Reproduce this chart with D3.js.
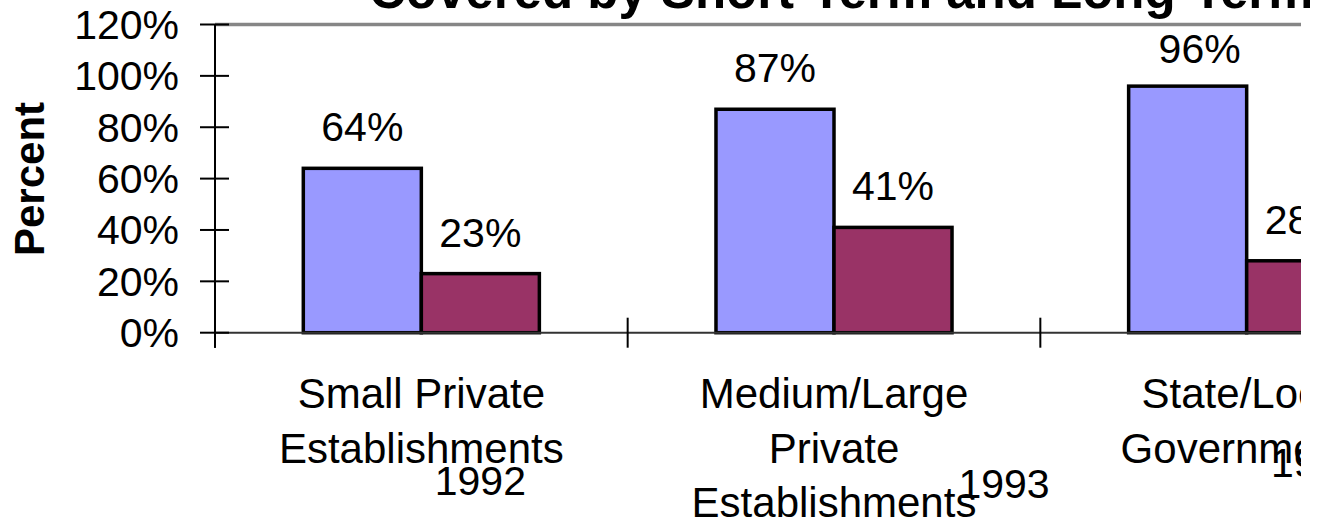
<!DOCTYPE html>
<html>
<head>
<meta charset="utf-8">
<script src="https://cdn.jsdelivr.net/npm/d3@7/dist/d3.min.js"></script>
<style>
  html, body { margin: 0; padding: 0; background: #fff; }
  svg { display: block; font-family: "Liberation Sans", Arial, sans-serif; }
</style>
</head>
<body>
<svg id="chart" width="1319" height="525"></svg>
<script>
// Chart data
const titleText = "Covered by Short-Term and Long-Term Disability";
const categories = [
  ["Small Private", "Establishments"],
  ["Medium/Large", "Private", "Establishments"],
  ["State/Local", "Governments"]
];
const years = ["1992", "1993", "1994"];
const shortTerm = [64, 87, 96];
const longTerm = [23, 41, 28];
const yTicks = [0, 20, 40, 60, 80, 100, 120];
const yTitle = "Percent";

// Layout
const W = 1319, H = 525;
const plot = { left: 215, top: 24.5, bottom: 332.7, right: 1453 };
const clipRight = 1301;
const seriesColors = ["#9999FF", "#993366"];
const yearPlacement = [
  { dx: 59, y: 495 },
  { dx: 170, y: 498 },
  { dx: 70, y: 477 }
];
const labelNudge = [[0, 0, 12], [0, 0, 0]];

const svg = d3.select("#chart");
const defs = svg.append("defs");

defs.append("clipPath").attr("id", "plotClip")
  .append("rect").attr("x", 0).attr("y", -50).attr("width", clipRight).attr("height", H + 100);
defs.append("clipPath").attr("id", "titleClip")
  .append("rect").attr("x", 0).attr("y", -50).attr("width", 1310).attr("height", H + 100);

const root = svg.append("g").attr("clip-path", "url(#plotClip)");

const x = d3.scaleBand()
  .domain(d3.range(categories.length))
  .range([plot.left, plot.right])
  .paddingInner(0).paddingOuter(0);

const y = d3.scaleLinear().domain([0, 120]).range([plot.bottom, plot.top]);

const barW = x.bandwidth() * 0.286;

// Title (lower part of a multi-line heading that runs off the top)
svg.append("g").attr("clip-path", "url(#titleClip)")
  .append("text")
  .attr("x", 369).attr("y", 8)
  .attr("font-size", 51).attr("font-weight", "bold")
  .attr("fill", "#000")
  .text(titleText);

// Plot-area top border
root.append("line")
  .attr("x1", plot.left).attr("x2", plot.right)
  .attr("y1", y(120)).attr("y2", y(120))
  .attr("stroke", "#868686").attr("stroke-width", 3.5);

// Bars
const series = [shortTerm, longTerm];
series.forEach((vals, s) => {
  root.selectAll(null)
    .data(vals)
    .enter().append("rect")
    .attr("x", (d, i) => x(i) + x.bandwidth() / 2 + (s === 0 ? -barW : 0))
    .attr("y", d => y(d))
    .attr("width", barW)
    .attr("height", d => y(0) - y(d))
    .attr("fill", seriesColors[s])
    .attr("stroke", "#000")
    .attr("stroke-width", 3.5);

  root.selectAll(null)
    .data(vals)
    .enter().append("text")
    .attr("x", (d, i) => x(i) + x.bandwidth() / 2 + (s === 0 ? -barW / 2 : barW / 2) + labelNudge[s][i])
    .attr("y", d => y(d) - 27 + (s === 0 && d > 90 ? 4 : 0))
    .attr("text-anchor", "middle")
    .attr("font-size", 41)
    .text(d => d + "%");
});

// Category axis baseline
root.append("line")
  .attr("x1", plot.left).attr("x2", plot.right)
  .attr("y1", y(0)).attr("y2", y(0))
  .attr("stroke", "#333").attr("stroke-width", 2);

// Category boundary ticks
root.selectAll(null)
  .data(d3.range(categories.length + 1))
  .enter().append("line")
  .attr("x1", i => plot.left + i * x.step())
  .attr("x2", i => plot.left + i * x.step())
  .attr("y1", y(0) - 15).attr("y2", y(0) + 15)
  .attr("stroke", "#000").attr("stroke-width", 2);

// Category labels
categories.forEach((lines, i) => {
  const t = root.append("text")
    .attr("text-anchor", "middle")
    .attr("font-size", 42);
  lines.forEach((ln, k) => {
    t.append("tspan")
      .attr("x", x(i) + x.bandwidth() / 2)
      .attr("y", 408 + k * 54.5)
      .text(ln);
  });
});

// Year labels
root.selectAll(null)
  .data(years)
  .enter().append("text")
  .attr("x", (d, i) => x(i) + x.bandwidth() / 2 + yearPlacement[i].dx)
  .attr("y", (d, i) => yearPlacement[i].y)
  .attr("text-anchor", "middle")
  .attr("font-size", 41)
  .text(d => d);

// Value axis
const yAxis = svg.append("g");
yAxis.append("line")
  .attr("x1", plot.left).attr("x2", plot.left)
  .attr("y1", y(120)).attr("y2", y(0) + 15)
  .attr("stroke", "#000").attr("stroke-width", 2);
yAxis.selectAll(null)
  .data(yTicks)
  .enter().append("line")
  .attr("x1", plot.left - 15).attr("x2", plot.left + 14)
  .attr("y1", d => y(d)).attr("y2", d => y(d))
  .attr("stroke", "#000").attr("stroke-width", 2);
yAxis.selectAll(null)
  .data(yTicks)
  .enter().append("text")
  .attr("x", 179)
  .attr("y", d => y(d) + 14.5)
  .attr("text-anchor", "end")
  .attr("font-size", 41)
  .text(d => d + "%");

// Value axis title
svg.append("text")
  .attr("transform", "translate(44,179) rotate(-90)")
  .attr("text-anchor", "middle")
  .attr("font-size", 42)
  .attr("font-weight", "bold")
  .text(yTitle);
</script>
</body>
</html>
